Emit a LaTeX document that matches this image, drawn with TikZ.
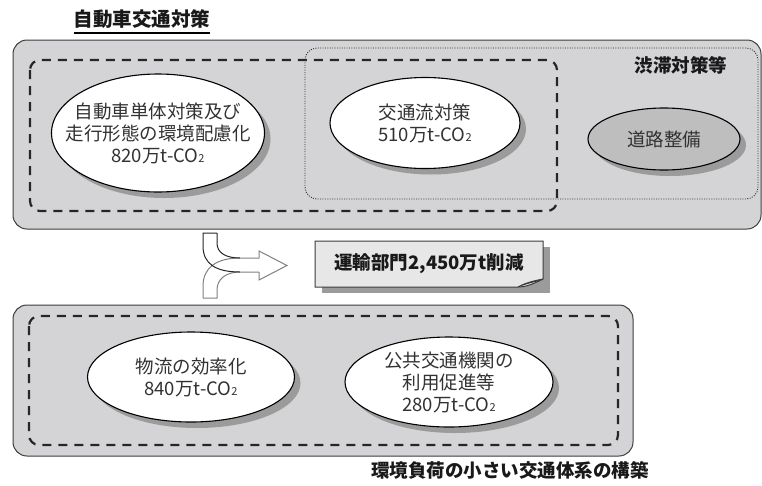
\documentclass[tikz,border=0pt]{standalone}
\usepackage{fontspec}
\setmainfont{Noto Sans CJK JP}
\usetikzlibrary{shapes.geometric,shadows}
\definecolor{boxgray}{RGB}{212,212,214}
\definecolor{shadgray}{RGB}{155,155,155}
\definecolor{roadgray}{RGB}{190,190,190}
\definecolor{labfill}{RGB}{231,231,231}
\definecolor{txt}{RGB}{50,50,50}
\definecolor{lineg}{RGB}{60,60,60}
\tikzset{
  bigbox/.style={draw=lineg,line width=1pt,fill=boxgray,rounded corners=14pt},
  dashbox/.style={draw=black!85,line width=2.2pt,dash pattern=on 9pt off 7pt,rounded corners=10pt},
  dotbox/.style={draw=black!80,line width=0.9pt,dash pattern=on 1pt off 1.4pt,rounded corners=12pt},
  oval/.style={ellipse,draw=black,line width=1.1pt,fill=white,inner sep=0pt,
    drop shadow={shadow xshift=6pt,shadow yshift=-6pt,fill=shadgray,opacity=1}},
  ovtext/.style={align=center,text=txt,font=\fontsize{18.5}{22}\selectfont,inner sep=0pt},
  boldlab/.style={text=black!90,font=\fontsize{18.5}{22}\selectfont\bfseries,inner sep=0pt},
  upperpipe/.style={draw=black!85,line width=1pt},
  lowerpipe/.style={draw=black!50,line width=1pt},
}
\newcommand{\cotwo}{CO{\fontsize{11}{11}\selectfont 2}}
\begin{document}
\begin{tikzpicture}[x=1pt,y=-1pt]
\useasboundingbox (0,0) rectangle (762,485);
% title
\node[boldlab,font=\fontsize{19.5}{22}\selectfont\bfseries] (title) at (142,19) {自動車交通対策};
\coordinate (ul1) at (title.west |- 0,33);
\coordinate (ul2) at (title.east |- 0,33);
\draw[black,line width=1.3pt] (ul1) -- (ul2);
% top group
\draw[bigbox] (13,40) rectangle (761,229);
\draw[dashbox] (30,60) rectangle (557,211);
\draw[dotbox] (305,48) rectangle (758,199);
\node[boldlab] (jutai) at (681,65) {渋滞対策等};
\node[oval,minimum width=213pt,minimum height=118pt] (e1) at (158,133) {};
\node[ovtext] (t1) at (e1) {自動車単体対策及び\\走行形態の環境配慮化\\820万t-\cotwo};
\node[oval,minimum width=190pt,minimum height=91pt] (e2) at (425,123) {};
\node[ovtext] (t2) at (e2) {交通流対策\\510万t-\cotwo};
\node[oval,fill=roadgray,minimum width=152pt,minimum height=62pt] (e3) at (664,139) {};
\node[ovtext] (t3) at (e3) {道路整備};
% merging arrow
\draw[lowerpipe] (203,298) -- (217,298) -- (217,290) .. controls (217,279) and (226,272) .. (240,272) -- (259,272);
\draw[lowerpipe] (203,298) -- (203,286) .. controls (203,268) and (216,258) .. (240,258) -- (259,258);
\draw[upperpipe] (217,233) -- (203,233) -- (203,246) .. controls (203,264) and (216,272) .. (240,272);
\draw[upperpipe] (217,233) -- (217,243) .. controls (217,253) and (226,258) .. (240,258);
\draw[lowerpipe] (259,258) -- (259,251) -- (287,265.5) -- (259,280) -- (259,272);
% reduction label box
\fill[shadgray] (322,247) rectangle (550,293);
\draw[lineg,line width=1pt,fill=labfill] (315,241) -- (543,241) -- (543,279) .. controls (533,284) and (526,287) .. (518,287) -- (315,287) -- cycle;
\draw[lineg,line width=1pt,fill=white] (518,287) .. controls (525,283) and (533,281) .. (543,279) .. controls (535,282) and (526,283) .. (518,287);
\node[boldlab] (red) at (429,264) {運輸部門2,450万t削減};
% bottom group
\draw[bigbox] (13,305) rectangle (633,456);
\draw[dashbox] (29,316) rectangle (618,445);
\node[oval,minimum width=207pt,minimum height=90pt] (e4) at (191,377) {};
\node[ovtext] (t4) at (e4) {物流の効率化\\840万t-\cotwo};
\node[oval,minimum width=208pt,minimum height=90pt] (e5) at (449,382) {};
\node[ovtext] (t5) at (e5) {公共交通機関の\\利用促進等\\280万t-\cotwo};
\node[boldlab] (kankyo) at (510,470) {環境負荷の小さい交通体系の構築};
\end{tikzpicture}
\end{document}
